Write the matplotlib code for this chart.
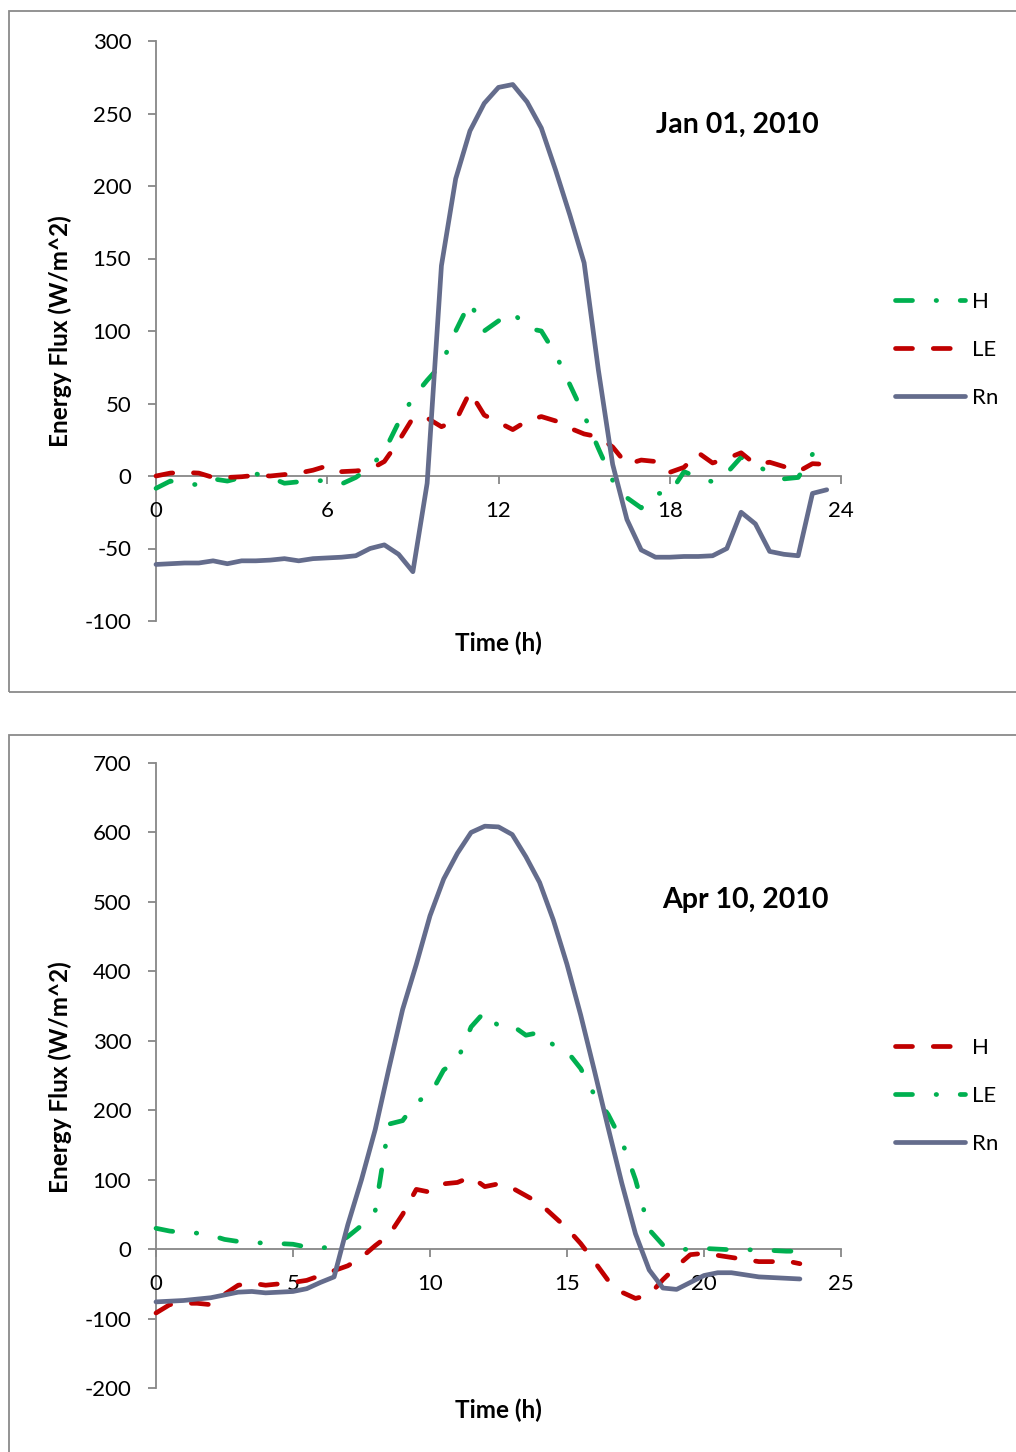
import matplotlib
matplotlib.use('Agg')
import matplotlib.pyplot as plt
from matplotlib.patches import Rectangle

plt.rcParams['font.family'] = ['Lato', 'DejaVu Sans']
plt.rcParams['axes.unicode_minus'] = False

# ---------------- data (half-hourly, hours of day) ----------------
hours = [0.0, 0.5, 1.0, 1.5, 2.0, 2.5, 3.0, 3.5, 4.0, 4.5, 5.0, 5.5,
         6.0, 6.5, 7.0, 7.5, 8.0, 8.5, 9.0, 9.5, 10.0, 10.5, 11.0, 11.5,
         12.0, 12.5, 13.0, 13.5, 14.0, 14.5, 15.0, 15.5, 16.0, 16.5, 17.0, 17.5,
         18.0, 18.5, 19.0, 19.5, 20.0, 20.5, 21.0, 21.5, 22.0, 22.5, 23.0, 23.5]

# Jan 01, 2010
jan_H = [-8.5, -3.5, -5.5, -6, -2, -3.5, -1, 1.5, -1, -5, -4, -3.5,
         -3, -5.5, -1, 6, 17, 37, 54, 66, 77, 100, 120, 100,
         107, 113, 102, 100, 84, 63, 42, 19, -3, -15, -22, -12,
         -12, 3, -1, -4, 2, 13, 8, 2, -2, -1, 15, 22]
jan_LE = [0, 2, 2.5, 2, -1, -1, -0.5, 0.5, 0, 1, 2, 4,
          7, 3, 3.5, 4.5, 10, 24, 40, 40, 34, 38, 58, 42,
          37, 32, 38, 41, 38, 33, 29, 27, 20, 8, 11, 10,
          2.5, 6, 16, 9, 12, 16, 8, 9.5, 6.5, 3, 8.5, 8]
jan_Rn = [-61, -60.5, -60, -60, -58.5, -60.5, -58.5, -58.5, -58, -57, -58.5, -57,
          -56.5, -56, -55, -50, -47.5, -54, -66, -5, 145, 205, 238, 257,
          268, 270, 258, 240, 211, 180, 147, 73, 8, -30, -51, -56,
          -56, -55.5, -55.5, -55, -50, -25, -33, -52, -54, -55, -12, -9.5]

# Apr 10, 2010
apr_H = [-92, -80, -78, -78, -80, -65, -52, -49, -52, -50, -48, -45,
         -38, -31, -24, -12, 5, 20, 50, 86, 82, 94, 96, 104,
         90, 94, 88, 77, 66, 48, 30, 8, -18, -45, -62, -71,
         -66, -44, -25, -8, -6, -9, -12, -15, -18, -18, -17, -21]
apr_LE = [30, 26, 24, 23, 20, 14, 11, 9, 9, 8, 7, 3,
          1, 5, 18, 34, 55, 180, 185, 212, 222, 258, 272, 320,
          342, 321, 322, 308, 312, 294, 285, 260, 222, 194, 156, 100,
          28, 6, -1, 0, 1, 0, -1, -1, -1, -2, -3, -3]
apr_Rn = [-76, -75, -74, -72, -70, -66, -62, -61, -63, -62, -61, -57,
          -48, -40, 35, 100, 172, 260, 345, 410, 480, 533, 570, 600,
          609, 608, 597, 565, 528, 474, 410, 337, 257, 175, 95, 22,
          -30, -56, -58, -48, -38, -34, -34, -37, -40, -41, -42, -43]

titles = ["Jan 01, 2010", "Apr 10, 2010"]
series_labels = ["H", "LE", "Rn"]
jan_xticks = [0, 6, 12, 18, 24]
jan_yticks = [-100, -50, 0, 50, 100, 150, 200, 250, 300]
apr_xticks = [0, 5, 10, 15, 20, 25]
apr_yticks = [-200, -100, 0, 100, 200, 300, 400, 500, 600, 700]

# ---------------- styling ----------------
W, H = 1016, 1452
GREEN = '#00B050'
RED = '#C00000'
SLATE = '#646C8C'
SPINE = '#878787'
LW = 3.4
green_ls = (0, (3.6, 5.0, 0.1, 5.0))
red_ls = (0, (3.6, 4.4))

fig = plt.figure(figsize=(W / 100, H / 100), dpi=100)
fig.patch.set_facecolor('white')

# outer chart borders
fig.add_artist(Rectangle((8.5 / W, 1 - 691.5 / H), 1030 / W, 680.5 / H,
                         transform=fig.transFigure, fill=False,
                         edgecolor='#8A8A8A', lw=1.3))
fig.add_artist(Rectangle((8.5 / W, 1 - 1480 / H), 1030 / W, 745 / H,
                         transform=fig.transFigure, fill=False,
                         edgecolor='#8A8A8A', lw=1.3))


def make_axes(left, top, right, bottom):
    return fig.add_axes([left / W, 1 - bottom / H, (right - left) / W, (bottom - top) / H])


panels = [
    dict(box=(156, 41, 841, 621), xlim=(0, 24), ylim=(-100, 300),
         xticks=jan_xticks, yticks=jan_yticks,
         series=[(jan_H, GREEN, green_ls), (jan_LE, RED, red_ls), (jan_Rn, SLATE, '-')],
         title=titles[0], title_xy=(737, 125), ylab_xy=(60, 331), xlab_xy=(498, 643),
         leg_y=350),
    dict(box=(156, 763, 841, 1388), xlim=(0, 25), ylim=(-200, 700),
         xticks=apr_xticks, yticks=apr_yticks,
         series=[(apr_H, RED, red_ls), (apr_LE, GREEN, green_ls), (apr_Rn, SLATE, '-')],
         title=titles[1], title_xy=(745, 900), ylab_xy=(60, 1077), xlab_xy=(498, 1410),
         leg_y=1096),
]

for p in panels:
    ax = make_axes(*p['box'])
    handles = []
    for (vals, col, ls), lab in zip(p['series'], series_labels):
        ln, = ax.plot(hours, vals, color=col, lw=LW, linestyle=ls,
                      dash_capstyle='round', solid_capstyle='round',
                      dash_joinstyle='round', solid_joinstyle='round', label=lab,
                      clip_on=False)
        handles.append(ln)
    ax.set_xlim(*p['xlim'])
    ax.set_ylim(*p['ylim'])
    ax.set_xticks(p['xticks'])
    ax.set_yticks(p['yticks'])
    for s in ['top', 'right']:
        ax.spines[s].set_visible(False)
    ax.spines['bottom'].set_position(('data', 0))
    for s in ['left', 'bottom']:
        ax.spines[s].set_color(SPINE)
        ax.spines[s].set_linewidth(1.3)
        ax.spines[s].set_zorder(0.5)
    ax.tick_params(axis='both', direction='out', length=5.8, width=1.3, color=SPINE,
                   labelsize=16, labelcolor='black')
    ax.tick_params(axis='x', pad=12)
    ax.tick_params(axis='y', pad=12)
    ax.set_facecolor('none')

    fig.text(p['title_xy'][0] / W, 1 - p['title_xy'][1] / H, p['title'],
             ha='center', va='center', fontsize=20.5, fontweight='bold')
    fig.text(p['ylab_xy'][0] / W, 1 - p['ylab_xy'][1] / H, "Energy Flux (W/m^2)",
             ha='center', va='center', rotation=90, fontsize=17.5, fontweight='bold')
    fig.text(p['xlab_xy'][0] / W, 1 - p['xlab_xy'][1] / H, "Time (h)",
             ha='center', va='center', fontsize=17.5, fontweight='bold')

    fig.legend(handles=handles, loc='center left',
               bbox_to_anchor=(895 / W, 1 - p['leg_y'] / H),
               frameon=False, fontsize=16, handlelength=3.15, handletextpad=0.3,
               labelspacing=1.27, borderpad=0, borderaxespad=0)

fig.savefig('out.png', dpi=100, facecolor='white')
